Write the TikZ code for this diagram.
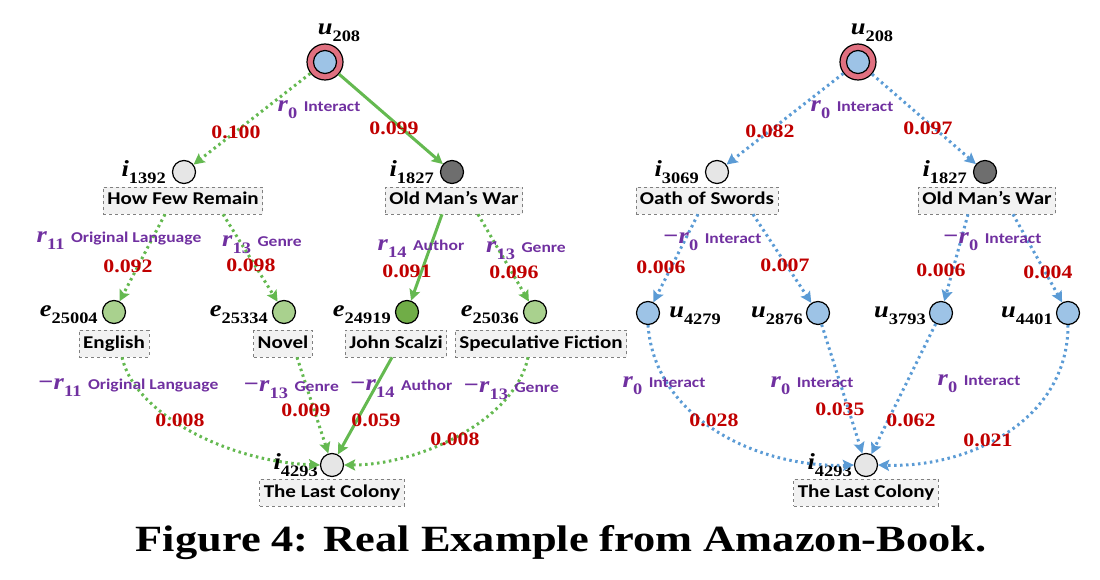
\documentclass[tikz,border=0pt]{standalone}
\usepackage{fontspec}
\newfontfamily\lblfont[FakeStretch=1.17]{Carlito}
\newfontfamily\numfont[FakeStretch=1.15]{Liberation Serif}
\newfontfamily\varfont[FakeStretch=1.15]{Liberation Serif}
\newfontfamily\capfont[FakeStretch=1.2]{Liberation Serif}
\usetikzlibrary{arrows.meta,positioning}
\definecolor{ringpink}{RGB}{224,112,128}
\definecolor{userblue}{RGB}{157,195,230}
\definecolor{itemgray}{RGB}{230,230,230}
\definecolor{itemdark}{RGB}{110,110,110}
\definecolor{entgreen}{RGB}{169,209,142}
\definecolor{entdark}{RGB}{112,173,71}
\definecolor{gedge}{RGB}{100,185,80}
\definecolor{bedge}{RGB}{91,155,213}
\definecolor{relpurple}{RGB}{112,48,160}
\definecolor{valred}{RGB}{192,0,0}
\definecolor{boxgray}{RGB}{242,242,242}
% symbol with subscript, e.g. \vlab{u}{208}
\newcommand\vlab[2]{{\varfont\bfseries\fontsize{23}{26}\selectfont\itshape #1\/\raisebox{-7pt}{\upshape\fontsize{16}{18}\selectfont #2}}}

\begin{document}
\begin{tikzpicture}[x=1pt, y=-1pt, every node/.style={inner sep=0pt},
  ent/.style={draw, circle, line width=1.2pt, minimum size=23pt},
  title/.style={draw=gray, dashed, line width=0.6pt, fill=boxgray, inner xsep=4pt, inner ysep=5pt,
    text height=13pt, text depth=4pt, font={\lblfont\bfseries\fontsize{18}{20}\selectfont}},
  rel/.style={text=relpurple, font={\lblfont\bfseries\fontsize{15}{18}\selectfont}},
  val/.style={text=valred, font={\numfont\bfseries\fontsize{19}{22}\selectfont}},
  link/.style={line width=3pt, -{Stealth[length=11pt, width=11pt, inset=2pt]}},
  dots/.style={link, dash pattern=on 2.5pt off 3.5pt}]
\useasboundingbox (0,0) rectangle (1100,580);

% left: explanation path for u208 -> i4293
\node[ent, fill=ringpink, minimum size=36pt, label={[xshift=14pt, label distance=2pt]above:\vlab{u}{208}}] (uL) at (325,62) {};
\node[ent, fill=userblue] (uLin) at (uL) {};
\node[ent, fill=itemgray, label={[label distance=6pt]left:\vlab{i}{1392}}] (iL1392) at (184,172) {};
\node[ent, fill=itemdark, label={[label distance=6pt]left:\vlab{i}{1827}}] (iL1827) at (452,172) {};
\node[title] (hfr) at (183,200.5) {How Few Remain};
\node[title] (omwL) at (454,200.5) {Old Man’s War};
\node[ent, fill=entgreen, label={[label distance=4pt, yshift=-3pt]left:\vlab{e}{25004}}] (e25004) at (114,312) {};
\node[ent, fill=entgreen, label={[label distance=4pt, yshift=-3pt]left:\vlab{e}{25334}}] (e25334) at (284,312) {};
\node[ent, fill=entdark, label={[label distance=4pt, yshift=-3pt]left:\vlab{e}{24919}}] (e24919) at (407,312) {};
\node[ent, fill=entgreen, label={[label distance=4pt, yshift=-3pt]left:\vlab{e}{25036}}] (e25036) at (535,312) {};
\node[title] (eng) at (114,343.5) {English};
\node[title] (nov) at (283,343.5) {Novel};
\node[title] (jsc) at (396,343.5) {John Scalzi};
\node[title] (spf) at (541,343.5) {Speculative Fiction};
\node[ent, fill=itemgray, label={[label distance=2pt]left:\vlab{i}{4293}}] (iL4293) at (332,465) {};
\node[title] (tlcL) at (332,492.5) {The Last Colony};

\draw[dots, draw=gedge] (uL) -- (iL1392);
\draw[link, draw=gedge] (uL) -- (iL1827);
\draw[dots, draw=gedge] ([xshift=-18pt]hfr.south) -- (e25004);
\draw[dots, draw=gedge] ([xshift=40pt]hfr.south) -- (e25334);
\draw[link, draw=gedge] ([xshift=-12pt]omwL.south) -- (e24919);
\draw[dots, draw=gedge] ([xshift=24pt]omwL.south) -- (e25036);
\draw[dots, draw=gedge] ([xshift=8pt]eng.south) .. controls (135,415) and (230,462) .. (iL4293.west);
\draw[dots, draw=gedge] ([xshift=14pt]nov.south) -- (iL4293);
\draw[link, draw=gedge] ([xshift=-4pt]jsc.south) -- (iL4293);
\draw[dots, draw=gedge] ([xshift=-13pt]spf.south) .. controls (515,420) and (420,465) .. (iL4293.east);

\node[rel] (lL0) at (319,110) {\vlab{r}{0}\, Interact};
\node[val] (vL0) at (236,132) {0.100};
\node[val] (vL1) at (394,128) {0.099};
\node[rel] (lL1) at (119,241) {\vlab{r}{11}\, Original Language};
\node[rel] (lL2) at (262,245) {\vlab{r}{13}\, Genre};
\node[val] (vL2) at (128,266) {0.092};
\node[val] (vL3) at (251,265) {0.098};
\node[rel] (lL3) at (421,249) {\vlab{r}{14}\, Author};
\node[val] (vL4) at (407,271) {0.091};
\node[rel] (lL4) at (526,251) {\vlab{r}{13}\, Genre};
\node[val] (vL5) at (514,272) {0.096};
\node[rel] (lL5) at (128,388) {\vlab{−r}{11}\, Original Language};
\node[rel] (lL6) at (291,390) {\vlab{−r}{13}\, Genre};
\node[rel] (lL7) at (401,389) {\vlab{−r}{14}\, Author};
\node[rel] (lL8) at (511,391) {\vlab{−r}{13}\, Genre};
\node[val] (vL6) at (180,420) {0.008};
\node[val] (vL7) at (306,410) {0.009};
\node[val] (vL8) at (376,420) {0.059};
\node[val] (vL9) at (455,439) {0.008};

% right: user-based paths for u208 -> i4293
\node[ent, fill=ringpink, minimum size=36pt, label={[xshift=14pt, label distance=2pt]above:\vlab{u}{208}}] (uR) at (858,62) {};
\node[ent, fill=userblue] (uRin) at (uR) {};
\node[ent, fill=itemgray, label={[label distance=6pt]left:\vlab{i}{3069}}] (iR3069) at (717,172) {};
\node[ent, fill=itemdark, label={[label distance=6pt]left:\vlab{i}{1827}}] (iR1827) at (985,172) {};
\node[title] (oos) at (707,200.5) {Oath of Swords};
\node[title] (omwR) at (987,200.5) {Old Man’s War};
\node[ent, fill=userblue, label={[label distance=9pt, yshift=-3pt]right:\vlab{u}{4279}}] (u4279) at (648,313) {};
\node[ent, fill=userblue, label={[label distance=3pt, yshift=-3pt]left:\vlab{u}{2876}}] (u2876) at (818,313) {};
\node[ent, fill=userblue, label={[label distance=3pt, yshift=-3pt]left:\vlab{u}{3793}}] (u3793) at (941,313) {};
\node[ent, fill=userblue, label={[label distance=3pt, yshift=-3pt]left:\vlab{u}{4401}}] (u4401) at (1068,313) {};
\node[ent, fill=itemgray, label={[label distance=2pt]left:\vlab{i}{4293}}] (iR4293) at (866,465) {};
\node[title] (tlcR) at (866,492.5) {The Last Colony};

\draw[dots, draw=bedge] (uR) -- (iR3069);
\draw[dots, draw=bedge] (uR) -- (iR1827);
\draw[dots, draw=bedge] ([xshift=-9pt]oos.south) -- (u4279);
\draw[dots, draw=bedge] ([xshift=46pt]oos.south) -- (u2876);
\draw[dots, draw=bedge] ([xshift=-19pt]omwR.south) -- (u3793);
\draw[dots, draw=bedge] ([xshift=26pt]omwR.south) -- (u4401);
\draw[dots, draw=bedge] (u4279.south) .. controls (655,420) and (760,468) .. (iR4293.west);
\draw[dots, draw=bedge] (u2876) -- (iR4293);
\draw[dots, draw=bedge] (u3793) -- (iR4293);
\draw[dots, draw=bedge] (u4401.south) .. controls (1068,420) and (970,468) .. (iR4293.east);

\node[rel] (lR0) at (852,110) {\vlab{r}{0}\, Interact};
\node[val] (vR0) at (770,131) {0.082};
\node[val] (vR1) at (928,128) {0.097};
\node[rel] (lR1) at (712,242) {\vlab{−r}{0}\, Interact};
\node[val] (vR2) at (661,267) {0.006};
\node[val] (vR3) at (785,265) {0.007};
\node[rel] (lR2) at (992,242) {\vlab{−r}{0}\, Interact};
\node[val] (vR4) at (941,270) {0.006};
\node[val] (vR5) at (1048,272) {0.004};
\node[rel] (lR3) at (664,386) {\vlab{r}{0}\, Interact};
\node[rel] (lR4) at (812,386) {\vlab{r}{0}\, Interact};
\node[rel] (lR5) at (979,384) {\vlab{r}{0}\, Interact};
\node[val] (vR6) at (714,420) {0.028};
\node[val] (vR7) at (840,409) {0.035};
\node[val] (vR8) at (911,420) {0.062};
\node[val] (vR9) at (988,440) {0.021};

\node[font={\capfont\bfseries\fontsize{37}{42}\selectfont}] (cap) at (561,543) {Figure 4: Real Example from Amazon-Book.};
\end{tikzpicture}
\end{document}
